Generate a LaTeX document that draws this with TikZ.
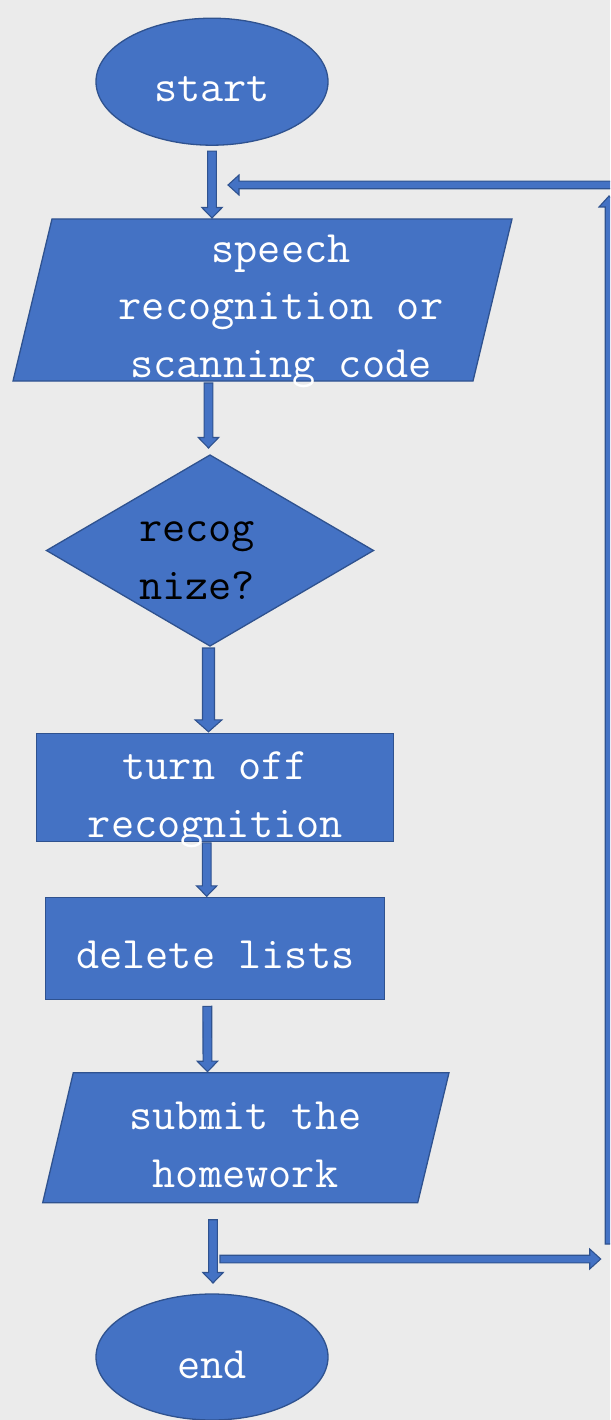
\documentclass[tikz,border=0pt]{standalone}
\usepackage{fontspec}
\usetikzlibrary{shapes.geometric,calc}
\definecolor{bfill}{HTML}{4472C4}
\definecolor{bedge}{HTML}{2F528F}
\definecolor{paper}{HTML}{EBEBEB}
\pgfdeclarelayer{bg}
\pgfsetlayers{bg,main}
\tikzset{
  % filled block arrow: #1 half shaft width, #2 half head width, #3 head length
  blockarrow/.style n args={3}{draw=bedge, fill=bfill, line width=1.1pt, line join=miter,
    to path={
      ($(\tikztostart)!#1!90:(\tikztotarget)$)
      -- ($(\tikztotarget)!#3!(\tikztostart)!#1!-90:(\tikztostart)$)
      -- ($(\tikztotarget)!#3!(\tikztostart)!#2!-90:(\tikztostart)$)
      -- (\tikztotarget)
      -- ($(\tikztotarget)!#3!(\tikztostart)!#2!90:(\tikztostart)$)
      -- ($(\tikztotarget)!#3!(\tikztostart)!#1!90:(\tikztostart)$)
      -- ($(\tikztostart)!#1!-90:(\tikztotarget)$)
      -- cycle}},
  vflow/.style={blockarrow={4.4pt}{10.2pt}{10.5pt}},
  wideflow/.style={blockarrow={6pt}{13.5pt}{12pt}},
  hflow/.style={blockarrow={3.8pt}{10pt}{11pt}},
  shapebox/.style={draw=bedge, fill=bfill, line width=1.3pt},
  flowtext/.style={font=\ttfamily\fontsize{45}{57.5}\selectfont, text=white,
    inner sep=0pt, outer sep=0pt},
  terminal/.style={flowtext, shapebox, ellipse, minimum width=232pt},
  process/.style={flowtext, shapebox, rectangle},
  decision/.style={flowtext, shapebox, diamond, text=black},
  io/.style={flowtext, align=center}
}
\begin{document}
\begin{tikzpicture}[x=1pt,y=-1pt]
\clip (0,0) rectangle (610,1420);
\begin{pgfonlayer}{bg}
  \fill[paper] (0,0) rectangle (610,1420);
  % input / output parallelograms
  \draw[shapebox] (52,219) -- (512,219) -- (473,381) -- (13,381) -- cycle;
  \draw[shapebox] (73.3,1072.7) -- (449,1072.7) -- (417.7,1202.7) -- (42.7,1202.7) -- cycle;
\end{pgfonlayer}

% nodes
\node[terminal, minimum height=127pt, text height=40.6pt, text depth=0pt] (start) at (212,81.7) {start};
\node[io, minimum width=460pt, minimum height=162pt, text height=154pt, text depth=0pt]
  (inp) at (281,300) {speech\\recognition or\\scanning code};
\node[decision, minimum width=327pt, minimum height=191pt, text width=142pt, align=left,
  text height=0pt, text depth=17.6pt] (dia) at (210,550.5) {recog\\nize?};
\node[process, minimum width=357pt, minimum height=108pt, align=center,
  text height=98.4pt, text depth=0pt] (off) at (215.3,787.8) {turn off\\recognition};
\node[process, minimum width=339pt, minimum height=102pt,
  text height=39.4pt, text depth=0pt] (del) at (215.3,948.3) {delete lists};
\node[io, minimum width=375pt, minimum height=130pt, text height=98.6pt, text depth=0pt]
  (sub) at (245.5,1137.7) {submit the\\homework};
\node[terminal, minimum height=126pt, text height=42pt, text depth=0pt] (end) at (212,1357) {end};

% main flow
\draw[vflow] ([yshift=-6pt]start.south) to ([xshift=-69pt,yshift=1pt]inp.north);
\draw[vflow] ([xshift=-72.5pt,yshift=-2pt]inp.south) to ([xshift=-1.5pt,yshift=7pt]dia.north);
\draw[wideflow] ([xshift=-1.5pt,yshift=-2pt]dia.south) to ([xshift=-6.8pt,yshift=2pt]off.north);
\draw[vflow] ([xshift=-8.6pt,yshift=-1pt]off.south) to ([xshift=-8.6pt,yshift=1pt]del.north);
\draw[vflow] ([xshift=-8pt,yshift=-7pt]del.south) to ([xshift=-38pt,yshift=1pt]sub.north);
\draw[vflow] ([xshift=-32.5pt,yshift=-17pt]sub.south) to ([xshift=1pt,yshift=11pt]end.north);

% loop back along the right edge
\coordinate (lb) at (220,1259);
\coordinate (rb) at (600.7,1259);
\coordinate (rbot) at (609,1244);
\coordinate (rtop) at (609,196);
\coordinate (rt) at (612,185);
\coordinate (lt) at (228,185);
\draw[hflow] (lb) to (rb);
\draw[hflow] (rbot) to (rtop);
\draw[hflow] (rt) to (lt);
\end{tikzpicture}
\end{document}
